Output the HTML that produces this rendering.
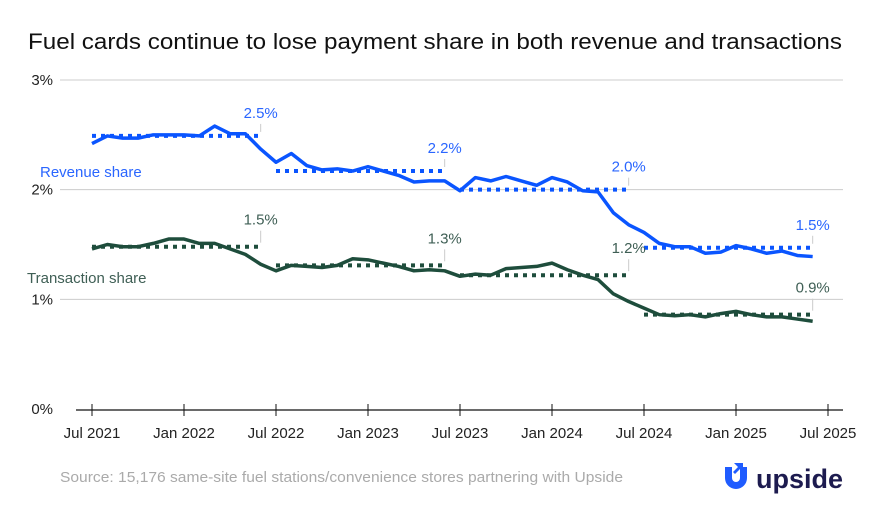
<!DOCTYPE html>
<html><head><meta charset="utf-8"><style>
body{margin:0;background:#fff;width:869px;height:512px;overflow:hidden;font-family:"Liberation Sans",sans-serif}
</style></head><body>
<svg id="chart" width="869" height="512" xmlns="http://www.w3.org/2000/svg">
<text x="28" y="49" font-size="22" fill="#111" textLength="814" lengthAdjust="spacingAndGlyphs">Fuel cards continue to lose payment share in both revenue and transactions</text>
<g id="grid"></g><g id="marks"></g><g id="axis"></g>
<text x="60" y="482" font-size="15" fill="#aaa" textLength="563" lengthAdjust="spacingAndGlyphs">Source: 15,176 same-site fuel stations/convenience stores partnering with Upside</text>
<g>
<path d="M725 467 v11 a11 11 0 0 0 22 0 v-11 h-7 v11 a4 4 0 0 1 -8 0 v-11z" fill="#1f5cff"/>
<path d="M734 463 l9 0 l0 9 l-3 -3 l-5 5 l-2 -2 l5 -5z" fill="#1f5cff"/>
<text x="756" y="488" font-size="27" font-weight="bold" fill="#1d1b4f">upside</text>
</g>
</svg>
<script>
const months=["Jul 2021","Jan 2022","Jul 2022","Jan 2023","Jul 2023","Jan 2024","Jul 2024","Jan 2025","Jul 2025"];
const yTicks=[0,1,2,3];
const revenue=[2.42,2.49,2.47,2.47,2.50,2.50,2.50,2.49,2.58,2.51,2.51,2.37,2.25,2.33,2.22,2.18,2.19,2.17,2.21,2.17,2.13,2.07,2.08,2.08,1.99,2.11,2.08,2.12,2.08,2.04,2.11,2.07,1.99,1.98,1.79,1.68,1.61,1.51,1.48,1.48,1.42,1.43,1.49,1.46,1.42,1.44,1.40,1.39];
const transactions=[1.46,1.50,1.48,1.48,1.51,1.55,1.55,1.51,1.51,1.46,1.41,1.32,1.26,1.31,1.30,1.29,1.31,1.37,1.36,1.33,1.30,1.26,1.27,1.26,1.21,1.23,1.22,1.28,1.29,1.30,1.33,1.27,1.22,1.18,1.05,0.98,0.92,0.86,0.85,0.86,0.84,0.87,0.89,0.86,0.84,0.84,0.82,0.80];
const revAvg=[2.49,2.17,2.00,1.47];
const txAvg=[1.48,1.31,1.22,0.86];
const revAvgLabels=["2.5%","2.2%","2.0%","1.5%"];
const txAvgLabels=["1.5%","1.3%","1.2%","0.9%"];
const NS="http://www.w3.org/2000/svg";
const x0=92,pxMonth=(828-92)/48;
const X=i=>x0+i*pxMonth;
const Y=v=>409-v*109.67;
function mk(parent,tag,attrs){const e=document.createElementNS(NS,tag);for(const k in attrs)e.setAttribute(k,attrs[k]);document.getElementById(parent).appendChild(e);return e;}
yTicks.forEach(t=>{
 if(t>0){const g=mk('grid','line',{x1:60,x2:843,y1:Y(t),y2:Y(t),stroke:'#ccc','stroke-width':1});
 
 }
 const l=mk('grid','text',{x:53,y:Y(t)+5,'text-anchor':'end','font-size':15,fill:'#222'});l.textContent=t+'%';
 
 
});
const ax=mk('axis','line',{x1:76,x2:843,y1:410,y2:410,stroke:'#111','stroke-width':1.2});


months.forEach((m,i)=>{
 const xx=X(i*6);
 const t=mk('axis','line',{x1:xx,x2:xx,y1:404,y2:416,stroke:'#111'});
 
 
 const l=mk('axis','text',{x:xx,y:438,'text-anchor':'middle','font-size':15,fill:'#222'});l.textContent=m;
 
 
});
function series(data,avg,labels,color,lcolor,name,labelOff){
 avg.forEach((v,k)=>{
  const a=X(k*12),b=X(k*12+11);
  const d=mk('marks','line',{x1:a,x2:b,y1:Y(v),y2:Y(v),stroke:color,'stroke-width':4,'stroke-dasharray':'4 5'});
  
  
  const ll=mk('marks','line',{x1:b,x2:b,y1:Y(v)-labelOff+6,y2:Y(v)-4,stroke:'#ccc','stroke-width':1});
  
  
  const t=mk('marks','text',{x:b,y:Y(v)-labelOff,'text-anchor':'middle','font-size':15,fill:lcolor});t.textContent=labels[k];
  
  
 });
 const p=mk('marks','polyline',{points:data.map((v,i)=>X(i)+','+Y(v)).join(' '),fill:'none',stroke:color,'stroke-width':3.5,'stroke-linejoin':'round'});
 
 
}
series(revenue,revAvg,revAvgLabels,'#0a55ff','#2a66ff','revenue-share',18);
series(transactions,txAvg,txAvgLabels,'#1e4d3c','#3f5f55','transaction-share',22);
const r=mk('marks','text',{x:40,y:177,'font-size':15,fill:'#2a66ff'});r.textContent='Revenue share';


const tr=mk('marks','text',{x:27,y:283,'font-size':15,fill:'#3f5f55'});tr.textContent='Transaction share';


</script>
</body></html>
